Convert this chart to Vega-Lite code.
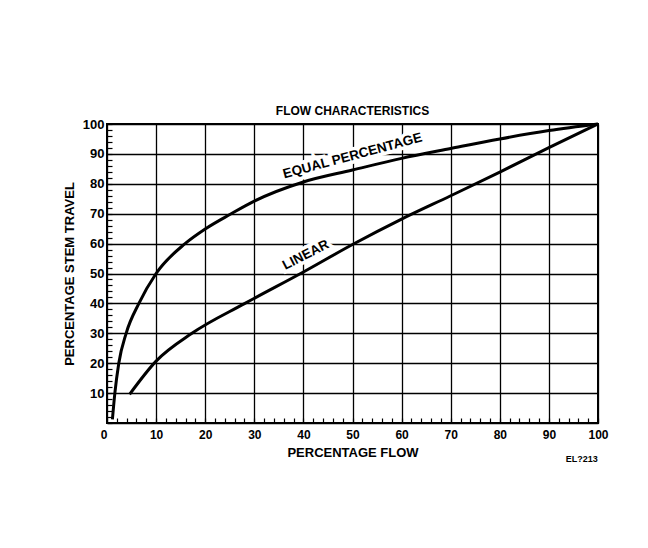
{
  "$schema": "https://vega.github.io/schema/vega-lite/v6.json",
  "width": 491,
  "height": 299,
  "autosize": {"type": "none"},
  "padding": {"left": 107, "top": 124, "right": 50, "bottom": 125},
  "background": "white",
  "title": {"text": "FLOW CHARACTERISTICS", "font": "Liberation Sans", "fontSize": 12, "fontWeight": "bold", "color": "black", "offset": 0, "anchor": "middle"},
  "config": {
    "view": {"stroke": "black", "strokeWidth": 2},
    "axis": {"labelFont": "Liberation Sans", "labelFontWeight": "bold", "labelColor": "black", "titleFont": "Liberation Sans", "titleFontWeight": "bold", "titleColor": "black", "gridColor": "black", "gridWidth": 1.3, "tickColor": "black", "tickWidth": 1.2, "domain": false, "labelOverlap": false, "tickCount": 60}
  },
  "datasets": {
    "curves": [
      {"series": "Equal percentage", "flow": 1.1, "travel": 1.2},
      {"series": "Equal percentage", "flow": 1.6, "travel": 10},
      {"series": "Equal percentage", "flow": 2.4, "travel": 20},
      {"series": "Equal percentage", "flow": 3.9, "travel": 30},
      {"series": "Equal percentage", "flow": 6.5, "travel": 40},
      {"series": "Equal percentage", "flow": 10, "travel": 50},
      {"series": "Equal percentage", "flow": 15.9, "travel": 60},
      {"series": "Equal percentage", "flow": 20, "travel": 64.9},
      {"series": "Equal percentage", "flow": 25.2, "travel": 69.9},
      {"series": "Equal percentage", "flow": 30, "travel": 74.2},
      {"series": "Equal percentage", "flow": 40, "travel": 80.6},
      {"series": "Equal percentage", "flow": 50, "travel": 84.6},
      {"series": "Equal percentage", "flow": 60, "travel": 88.5},
      {"series": "Equal percentage", "flow": 70, "travel": 91.8},
      {"series": "Equal percentage", "flow": 80, "travel": 95.0},
      {"series": "Equal percentage", "flow": 90, "travel": 97.8},
      {"series": "Equal percentage", "flow": 100, "travel": 100},
      {"series": "Linear", "flow": 4.6, "travel": 9.6},
      {"series": "Linear", "flow": 10, "travel": 20.7},
      {"series": "Linear", "flow": 17.3, "travel": 30},
      {"series": "Linear", "flow": 28.1, "travel": 40},
      {"series": "Linear", "flow": 40, "travel": 50.5},
      {"series": "Linear", "flow": 50, "travel": 59.7},
      {"series": "Linear", "flow": 60, "travel": 68.2},
      {"series": "Linear", "flow": 70, "travel": 76},
      {"series": "Linear", "flow": 80, "travel": 83.9},
      {"series": "Linear", "flow": 90, "travel": 92.1},
      {"series": "Linear", "flow": 100, "travel": 100}
    ],
    "labels": [
      {"label": "EQUAL PERCENTAGE", "flow": 50, "travel": 89.3},
      {"label": "LINEAR", "flow": 40.5, "travel": 56.2},
      {"label": "EL?213", "flow": 96.7, "travel": -12}
    ]
  },
  "layer": [
    {
      "data": {"name": "curves"},
      "mark": {"type": "line", "color": "black", "strokeWidth": 3, "interpolate": "monotone", "clip": false},
      "encoding": {
        "x": {"field": "flow", "type": "quantitative", "scale": {"domain": [0, 100], "nice": false},
          "axis": {"values": [0,2,4,6,8,10,12,14,16,18,20,22,24,26,28,30,32,34,36,38,40,42,44,46,48,50,52,54,56,58,60,62,64,66,68,70,72,74,76,78,80,82,84,86,88,90,92,94,96,98,100],
            "labelExpr": "datum.value % 10 === 0 ? datum.label : ''",
            "labelAlign": {"condition": {"test": "datum.value === 0", "value": "right"}, "value": "center"},
            "gridOpacity": {"condition": {"test": "datum.value % 10 === 0", "value": 1}, "value": 0},
            "tickSize": -5, "labelPadding": 11, "labelFontSize": 12,
            "title": "PERCENTAGE FLOW", "titleFontSize": 13, "titlePadding": 6}},
        "y": {"field": "travel", "type": "quantitative", "scale": {"domain": [0, 100], "nice": false},
          "axis": {"values": [0,2,4,6,8,10,12,14,16,18,20,22,24,26,28,30,32,34,36,38,40,42,44,46,48,50,52,54,56,58,60,62,64,66,68,70,72,74,76,78,80,82,84,86,88,90,92,94,96,98,100],
            "labelExpr": "datum.value % 10 === 0 && datum.value > 0 ? datum.label : ''",
            "gridOpacity": {"condition": {"test": "datum.value % 10 === 0", "value": 1}, "value": 0},
            "tickSize": -5, "labelPadding": 8, "labelFontSize": 13,
            "title": "PERCENTAGE STEM TRAVEL", "titleFontSize": 13, "titlePadding": 6}},
        "detail": {"field": "series"}
      }
    },
    {
      "data": {"name": "labels"},
      "transform": [{"filter": "datum.label === 'EQUAL PERCENTAGE'"}],
      "layer": [
        {"mark": {"type": "text", "font": "Liberation Sans", "fontWeight": "bold", "fontSize": 13.5, "angle": 345, "stroke": "white", "strokeWidth": 7, "fill": "white", "clip": false}},
        {"mark": {"type": "text", "font": "Liberation Sans", "fontWeight": "bold", "fontSize": 13.5, "angle": 345, "fill": "black", "clip": false}}
      ],
      "encoding": {
        "x": {"field": "flow", "type": "quantitative"},
        "y": {"field": "travel", "type": "quantitative"},
        "text": {"field": "label"}
      }
    },
    {
      "data": {"name": "labels"},
      "transform": [{"filter": "datum.label === 'LINEAR'"}],
      "layer": [
        {"mark": {"type": "text", "font": "Liberation Sans", "fontWeight": "bold", "fontSize": 13.5, "angle": 333, "stroke": "white", "strokeWidth": 7, "fill": "white", "clip": false}},
        {"mark": {"type": "text", "font": "Liberation Sans", "fontWeight": "bold", "fontSize": 13.5, "angle": 333, "fill": "black", "clip": false}}
      ],
      "encoding": {
        "x": {"field": "flow", "type": "quantitative"},
        "y": {"field": "travel", "type": "quantitative"},
        "text": {"field": "label"}
      }
    },
    {
      "data": {"name": "labels"},
      "transform": [{"filter": "datum.label === 'EL?213'"}],
      "mark": {"type": "text", "font": "Liberation Sans", "fontWeight": "bold", "fontSize": 9, "fill": "black", "clip": false},
      "encoding": {
        "x": {"field": "flow", "type": "quantitative"},
        "y": {"field": "travel", "type": "quantitative"},
        "text": {"field": "label"}
      }
    }
  ]
}
